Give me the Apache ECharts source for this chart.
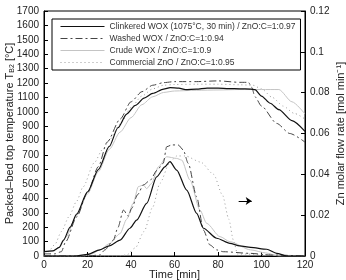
<!DOCTYPE html>
<html>
<head>
<meta charset="utf-8">
<script src="https://cdn.jsdelivr.net/npm/echarts@6/dist/echarts.min.js"></script>
<style>
  html, body { margin: 0; padding: 0; background: #fff; }
  #chart { width: 346px; height: 280px; }
</style>
</head>
<body>
<div id="chart"></div>
<script>
// series names (legend)
const names = [
  "Clinkered WOX (1075°C, 30 min) / ZnO:C=1:0.97",
  "Washed WOX / ZnO:C=1:0.94",
  "Crude WOX / ZnO:C=1:0.9",
  "Commercial ZnO / ZnO:C=1:0.95"
];

// packed-bed top temperature [°C] vs time [min]
const clinkeredTempT = [0, 4, 7, 9, 12, 15, 20, 25, 30, 34, 38, 42, 46, 50, 55, 58, 62, 65, 70, 75, 80, 85, 90, 95, 97, 100, 104, 108, 114, 120];
const clinkeredTemp = [30, 35, 60, 110, 200, 290, 445, 600, 760, 890, 985, 1045, 1095, 1128, 1158, 1168, 1165, 1155, 1158, 1165, 1165, 1162, 1160, 1158, 1155, 1110, 1060, 1015, 940, 865];

const washedTempT = [0, 5, 8, 10, 15, 20, 25, 29, 35, 40, 45, 50, 55, 60, 70, 80, 90, 94, 95.5, 97, 100, 107, 113, 120];
const washedTemp = [15, 15, 30, 100, 270, 440, 620, 790, 950, 1070, 1140, 1185, 1203, 1210, 1210, 1215, 1205, 1205, 1170, 1105, 1040, 920, 850, 790];

const crudeTempT = [0, 4, 7, 10, 15, 20, 25, 30, 35, 40, 45, 50, 55, 60, 70, 80, 90, 100, 108, 114, 120];
const crudeTemp = [30, 35, 60, 130, 280, 430, 585, 740, 860, 960, 1050, 1105, 1135, 1145, 1150, 1152, 1155, 1155, 1155, 1070, 985];

const commercialTempT = [0, 2, 5, 8, 11.5, 15, 18, 23, 27, 30, 35, 40, 45, 50, 55, 60, 70, 80, 90, 96, 100, 105, 110, 115, 120];
const commercialTemp = [25, 30, 80, 170, 273, 380, 480, 645, 740, 805, 915, 1030, 1110, 1160, 1185, 1190, 1192, 1192, 1188, 1185, 1160, 1100, 1040, 990, 950];

// Zn molar flow rate [mol/min] vs time [min]
const clinkeredFlowT = [0, 15, 20, 25.7, 30, 35, 39.5, 42.6, 47.2, 51.8, 55.6, 57.9, 61, 65.6, 70.2, 73.3, 79.4, 85.5, 90, 95, 102.4, 107, 111.6, 120];
const clinkeredFlow = [0, 0, 0.0008, 0.003, 0.005, 0.0078, 0.0136, 0.0176, 0.0258, 0.0388, 0.0437, 0.0462, 0.0421, 0.0323, 0.0209, 0.0136, 0.0087, 0.0062, 0.005, 0.0042, 0.0033, 0.0013, 0, 0];

const washedFlowT = [0, 20, 25.7, 28, 31.9, 34, 36.5, 38.8, 40.3, 43, 45.7, 48.7, 52, 54.8, 56.4, 58.7, 61.7, 64, 66.3, 70.2, 73.3, 76.3, 79.4, 82.4, 94.7, 104, 120];
const washedFlow = [0, 0, 0.0005, 0.003, 0.0078, 0.014, 0.0225, 0.0195, 0.0233, 0.03, 0.0348, 0.037, 0.042, 0.0454, 0.0535, 0.0544, 0.0544, 0.052, 0.0454, 0.029, 0.0127, 0.0054, 0.003, 0.0021, 0.0013, 0.0005, 0];

const crudeFlowT = [0, 18, 22, 25.7, 30, 35, 38, 41, 43.4, 45.7, 47.2, 49.5, 52.6, 56.4, 61, 63.3, 67.1, 71.7, 74.8, 80.9, 85.5, 95, 102, 108, 120];
const crudeFlow = [0, 0, 0.001, 0.003, 0.006, 0.011, 0.018, 0.0258, 0.034, 0.0348, 0.033, 0.0356, 0.0437, 0.0486, 0.0478, 0.047, 0.0372, 0.0225, 0.016, 0.0095, 0.007, 0.003, 0.0015, 0, 0];

const commercialFlowT = [0, 34, 38, 42, 46, 50, 53.3, 57.9, 61, 65, 72, 78, 82, 85, 87, 89, 120];
const commercialFlow = [0, 0, 0.0005, 0.004, 0.012, 0.024, 0.0356, 0.046, 0.049, 0.049, 0.046, 0.04, 0.03, 0.018, 0.008, 0.001, 0];

// arrow pointing at the right axis
const arrowFrom = [89.5, 0.027];
const arrowTo = [95.5, 0.027];

const timeTicks = { min: 0, max: 120, interval: 20 };
const tempTicks = { min: 0, max: 1700, interval: 100 };
const flowTicks = { min: 0, max: 0.12, interval: 0.02 };

const pairs = (t, v) => t.map((x, i) => [x, v[i]]);

const styles = [
  { color: "#111", width: 1.2, type: "solid" },
  { color: "#444", width: 1, type: [7, 3, 2, 3] },
  { color: "#c4c4c4", width: 1, type: "solid" },
  { color: "#9a9a9a", width: 1, type: [1, 3] }
];

const temps = [
  pairs(clinkeredTempT, clinkeredTemp),
  pairs(washedTempT, washedTemp),
  pairs(crudeTempT, crudeTemp),
  pairs(commercialTempT, commercialTemp)
];
const flows = [
  pairs(clinkeredFlowT, clinkeredFlow),
  pairs(washedFlowT, washedFlow),
  pairs(crudeFlowT, crudeFlow),
  pairs(commercialFlowT, commercialFlow)
];

const series = [];
names.forEach((name, i) => {
  const s = styles[i];
  const base = {
    name: name,
    type: "line",
    symbol: "none",
    smooth: 0.25,
    smoothMonotone: "x",
    color: s.color,
    lineStyle: { color: s.color, width: s.width, type: s.type },
    z: 10 - i
  };
  series.push(Object.assign({}, base, { yAxisIndex: 0, data: temps[i] }));
  series.push(Object.assign({}, base, { yAxisIndex: 1, data: flows[i] }));
});
series[1].markLine = {
  silent: true,
  symbol: ["none", "arrow"],
  symbolSize: 6,
  label: { show: false },
  lineStyle: { color: "#000", width: 1, type: "solid" },
  data: [[{ coord: arrowFrom }, { coord: arrowTo }]]
};

const font = "Liberation Sans";
const tick = { inside: true, length: 4, lineStyle: { color: "#000" } };
const line = { show: true, lineStyle: { color: "#000", width: 1 } };

const chart = echarts.init(document.getElementById("chart"), null, { renderer: "canvas" });
chart.setOption({
  animation: false,
  textStyle: { fontFamily: font },
  grid: {
    left: 44, right: 41, top: 11, bottom: 24,
    outerBoundsMode: "none",
    containLabel: false,
    show: true, borderColor: "#000", borderWidth: 1
  },
  legend: {
    data: names,
    orient: "vertical",
    left: 52,
    top: 19,
    itemWidth: 44,
    itemHeight: 9,
    itemGap: 3,
    padding: [3, 5, 3, 8],
    borderColor: "#000",
    borderWidth: 1,
    backgroundColor: "#fff",
    itemStyle: { opacity: 0 },
    lineStyle: { width: 1 },
    textStyle: { fontFamily: font, fontSize: 8.5, color: "#333" }
  },
  xAxis: {
    type: "value",
    min: timeTicks.min,
    max: timeTicks.max,
    interval: timeTicks.interval,
    name: "Time [min]",
    nameLocation: "middle",
    nameMoveOverlap: false,
    nameGap: 13,
    nameTextStyle: { fontSize: 11, color: "#222", verticalAlign: "top" },
    axisLine: line,
    axisTick: tick,
    splitLine: { show: false },
    axisLabel: { fontSize: 10, color: "#222", margin: 4 }
  },
  yAxis: [
    {
      type: "value",
      min: tempTicks.min,
      max: tempTicks.max,
      interval: tempTicks.interval,
      name: "{n|Packed–bed top temperature T}{s|B2}{n| [°C]}",
      nameLocation: "middle",
      nameMoveOverlap: false,
      nameRotate: 90,
      nameGap: 28,
      nameTextStyle: {
        rich: {
          n: { fontSize: 11, color: "#222", fontFamily: font },
          s: { fontSize: 7, color: "#222", fontFamily: font, verticalAlign: "bottom", padding: [5, 0, 0, 0] }
        }
      },
      axisLine: line,
      axisTick: tick,
      splitLine: { show: false },
      axisLabel: { fontSize: 10, color: "#222", margin: 5, formatter: (v) => String(v) }
    },
    {
      type: "value",
      position: "right",
      min: flowTicks.min,
      max: flowTicks.max,
      interval: flowTicks.interval,
      name: "Zn molar flow rate [mol min⁻¹]",
      nameLocation: "middle",
      nameMoveOverlap: false,
      nameRotate: 90,
      nameGap: 30,
      nameTextStyle: { fontSize: 11, color: "#222" },
      axisLine: line,
      axisTick: tick,
      splitLine: { show: false },
      axisLabel: { fontSize: 10, color: "#222", margin: 5 }
    }
  ],
  series: series
});
</script>
</body>
</html>
